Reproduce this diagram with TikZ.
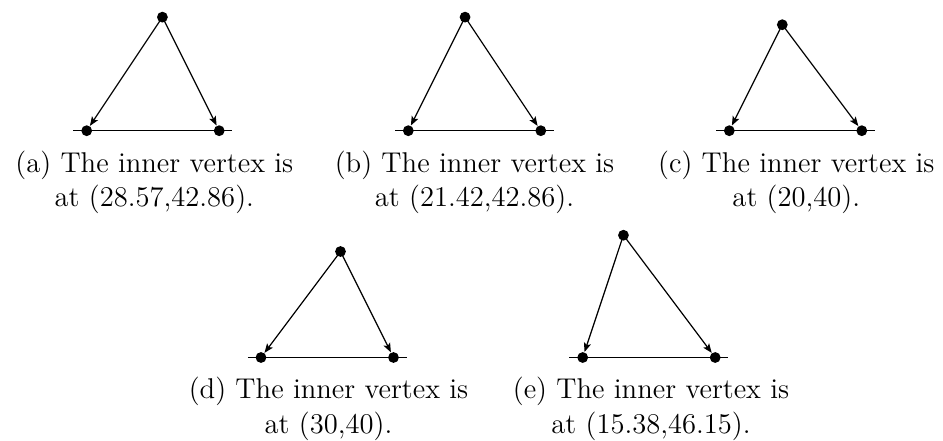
\documentclass[tikz,border=0pt]{standalone}
\usepackage{fontspec}
\usetikzlibrary{arrows.meta}
\tikzset{
  dotnode/.style={circle,fill=black,inner sep=0pt,minimum size=5.4pt},
  arrline/.style={line width=0.6pt,-{Stealth[length=4.6pt,width=3.6pt,inset=1pt]}},
  groundline/.style={line width=0.6pt},
  captext/.style={anchor=base,inner sep=0pt,font=\fontsize{14.3}{17}\selectfont}
}
\newcommand{\mytri}[5]{%
  \begin{scope}[xshift=#2pt,yshift=#3pt,x=1.325pt,y=1.325pt]
    \coordinate (#1W) at (-5,0);
    \coordinate (#1E) at (55,0);
    \draw[groundline] (#1W) -- (#1E);
    \node[dotnode] (#1L) at (0,0) {};
    \node[dotnode] (#1R) at (50,0) {};
    \node[dotnode] (#1T) at (#4,#5) {};
    \draw[arrline] (#1T.center) -- (#1L);
    \draw[arrline] (#1T.center) -- (#1R);
  \end{scope}}
\begin{document}
\begin{tikzpicture}[x=0.5pt,y=-0.5pt]
\useasboundingbox (0,0) rectangle (943,440);
% origins in pt: x=px*0.5, y=-px*0.5
\mytri{a}{43.35}{-65.35}{28.57}{42.86}
\mytri{b}{204.15}{-65.35}{21.42}{42.86}
\mytri{c}{364.65}{-65.35}{20}{40}
\mytri{d}{130.5}{-178.75}{30}{40}
\mytri{e}{291.35}{-178.75}{15.38}{46.15}
\node[captext] (ca1) at (154.3,172.3) {(a) The inner vertex is};
\node[captext] (ca2) at (154.3,206.8) {at (28.57,42.86).};
\node[captext] (cb1) at (474.5,172.3) {(b) The inner vertex is};
\node[captext] (cb2) at (474.5,206.8) {at (21.42,42.86).};
\node[captext] (cc1) at (796.3,172.3) {(c) The inner vertex is};
\node[captext] (cc2) at (796.3,206.8) {at (20,40).};
\node[captext] (cd1) at (328.5,398.5) {(d) The inner vertex is};
\node[captext] (cd2) at (328.5,433) {at (30,40).};
\node[captext] (ce1) at (651,398.5) {(e) The inner vertex is};
\node[captext] (ce2) at (651,433) {at (15.38,46.15).};
\end{tikzpicture}
\end{document}
